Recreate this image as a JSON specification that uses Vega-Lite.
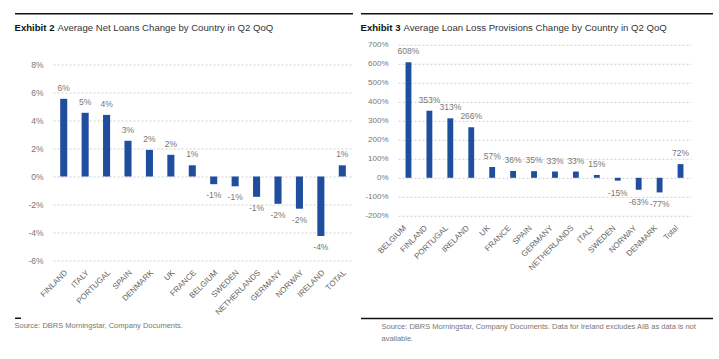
{
  "$schema": "https://vega.github.io/schema/vega-lite/v6.json",
  "padding": {"left": 14, "top": 12, "right": 6, "bottom": 0},
  "background": "white",
  "config": {
    "font": "Liberation Sans, Arial, sans-serif",
    "view": {"stroke": null},
    "axis": {"labelFont": "Liberation Sans, Arial, sans-serif", "labelColor": "#666", "ticks": false, "domain": false},
    "title": {"font": "Liberation Sans, Arial, sans-serif"},
    "text": {"font": "Liberation Sans, Arial, sans-serif"}
  },
  "spacing": 7,
  "hconcat": [
    {
      "spacing": 27.5,
      "vconcat": [
        {
          "spacing": 0,
          "bounds": "flush",
          "hconcat": [
            {"width": 43, "height": 1.5, "view": {"fill": "#111", "stroke": null}, "data": {"values": [{}]}, "mark": {"type": "rule", "opacity": 0}, "encoding": {},
             "title": {"text": "Exhibit 2", "orient": "bottom", "anchor": "start", "baseline": "top", "offset": 8.3, "fontSize": 9.6, "fontWeight": "bold", "color": "#111"}},
            {"width": 295, "height": 1.5, "view": {"fill": "#111", "stroke": null}, "data": {"values": [{}]}, "mark": {"type": "rule", "opacity": 0}, "encoding": {},
             "title": {"text": "Average Net Loans Change by Country in Q2 QoQ", "orient": "bottom", "anchor": "start", "baseline": "top", "offset": 8.3, "fontSize": 9.6, "fontWeight": "normal", "color": "#333"}}
          ]
        },
        {
          "spacing": 0,
          "vconcat": [
            {
              "spacing": 0,
              "hconcat": [
                {"width": 1, "height": 1, "data": {"values": [{}]}, "mark": {"type": "rule", "opacity": 0}, "encoding": {}},
                {
                  "width": 300,
                  "height": 196,
                  "data": {"values": [
                    {"country": "FINLAND", "v": 5.55, "label": "6%"},
                    {"country": "ITALY", "v": 4.55, "label": "5%"},
                    {"country": "PORTUGAL", "v": 4.4, "label": "4%"},
                    {"country": "SPAIN", "v": 2.55, "label": "3%"},
                    {"country": "DENMARK", "v": 1.9, "label": "2%"},
                    {"country": "UK", "v": 1.55, "label": "2%"},
                    {"country": "FRANCE", "v": 0.8, "label": "1%"},
                    {"country": "BELGIUM", "v": -0.55, "label": "-1%"},
                    {"country": "SWEDEN", "v": -0.7, "label": "-1%"},
                    {"country": "NETHERLANDS", "v": -1.45, "label": "-1%"},
                    {"country": "GERMANY", "v": -1.95, "label": "-2%"},
                    {"country": "NORWAY", "v": -2.3, "label": "-2%"},
                    {"country": "IRELAND", "v": -4.25, "label": "-4%"},
                    {"country": "TOTAL", "v": 0.8, "label": "1%"}
                  ]},
                  "encoding": {
                    "x": {"field": "country", "type": "nominal", "sort": null,
                          "scale": {"paddingInner": 0.67, "paddingOuter": 0.335},
                          "axis": {"title": null, "labelAngle": -45, "labelAlign": "right", "labelBaseline": "top", "labelPadding": 8, "labelFontSize": 8, "labelOverlap": false, "labelColor": "#666"}},
                    "y": {"field": "v", "type": "quantitative", "scale": {"domain": [-6, 8], "nice": false},
                          "axis": {"title": null, "values": [-6, -4, -2, 0, 2, 4, 6, 8], "labelExpr": "datum.value + '%'", "labelOverlap": false, "grid": true, "gridColor": "#cfcfcf", "gridDash": [2, 2], "labelPadding": 10, "minExtent": 37, "labelFontSize": 8.5, "labelColor": "#777"}}
                  },
                  "layer": [
                    {"mark": {"type": "bar", "color": "#1f4e9e"}},
                    {"mark": {"type": "rule", "color": "#333", "strokeWidth": 1.5}, "encoding": {"y": {"datum": 0}}},
                    {"transform": [{"filter": "datum.v >= 0"}],
                     "mark": {"type": "text", "baseline": "alphabetic", "dy": -8, "fontSize": 8.5, "color": "#777"},
                     "encoding": {"text": {"field": "label"}}},
                    {"transform": [{"filter": "datum.v < 0"}],
                     "mark": {"type": "text", "baseline": "top", "dy": 7, "fontSize": 8.5, "color": "#777"},
                     "encoding": {"text": {"field": "label"}}}
                  ]
                }
              ]
            },
            {"width": 6, "height": 1.5, "view": {"fill": "#111", "stroke": null}, "data": {"values": [{}]}, "mark": {"type": "rule", "opacity": 0}, "encoding": {},
             "title": {"text": "Source: DBRS Morningstar, Company Documents.", "orient": "bottom", "anchor": "start", "baseline": "top", "offset": 3, "fontSize": 7.5, "fontWeight": "normal", "color": "#777"}}
          ]
        }
      ]
    },
    {
      "spacing": 7.8,
      "vconcat": [
        {
          "spacing": 0,
          "bounds": "flush",
          "hconcat": [
            {"width": 43, "height": 1.5, "view": {"fill": "#111", "stroke": null}, "data": {"values": [{}]}, "mark": {"type": "rule", "opacity": 0}, "encoding": {},
             "title": {"text": "Exhibit 3", "orient": "bottom", "anchor": "start", "baseline": "top", "offset": 8.3, "fontSize": 9.6, "fontWeight": "bold", "color": "#111"}},
            {"width": 309, "height": 1.5, "view": {"fill": "#111", "stroke": null}, "data": {"values": [{}]}, "mark": {"type": "rule", "opacity": 0}, "encoding": {},
             "title": {"text": "Average Loan Loss Provisions Change by Country in Q2 QoQ", "orient": "bottom", "anchor": "start", "baseline": "top", "offset": 8.3, "fontSize": 9.6, "fontWeight": "normal", "color": "#333"}}
          ]
        },
        {
          "spacing": 45,
          "vconcat": [
            {
              "spacing": 0,
              "hconcat": [
                {"width": 1, "height": 1, "data": {"values": [{}]}, "mark": {"type": "rule", "opacity": 0}, "encoding": {}},
                {
                  "width": 293,
                  "height": 171,
                  "data": {"values": [
                    {"country": "BELGIUM", "v": 608, "label": "608%"},
                    {"country": "FINLAND", "v": 353, "label": "353%"},
                    {"country": "PORTUGAL", "v": 313, "label": "313%"},
                    {"country": "IRELAND", "v": 266, "label": "266%"},
                    {"country": "UK", "v": 57, "label": "57%"},
                    {"country": "FRANCE", "v": 36, "label": "36%"},
                    {"country": "SPAIN", "v": 35, "label": "35%"},
                    {"country": "GERMANY", "v": 33, "label": "33%"},
                    {"country": "NETHERLANDS", "v": 33, "label": "33%"},
                    {"country": "ITALY", "v": 15, "label": "15%"},
                    {"country": "SWEDEN", "v": -15, "label": "-15%"},
                    {"country": "NORWAY", "v": -63, "label": "-63%"},
                    {"country": "DENMARK", "v": -77, "label": "-77%"},
                    {"country": "Total", "v": 72, "label": "72%"}
                  ]},
                  "encoding": {
                    "x": {"field": "country", "type": "nominal", "sort": null,
                          "scale": {"paddingInner": 0.72, "paddingOuter": 0.36},
                          "axis": {"title": null, "labelAngle": -45, "labelAlign": "right", "labelBaseline": "top", "labelPadding": 8, "labelOffset": -6, "labelFontSize": 8, "labelOverlap": false, "labelColor": "#666"}},
                    "y": {"field": "v", "type": "quantitative", "scale": {"domain": [-200, 700], "nice": false},
                          "axis": {"title": null, "values": [-200, -100, 0, 100, 200, 300, 400, 500, 600, 700], "labelExpr": "datum.value + '%'", "labelOverlap": false, "grid": true, "gridColor": "#cfcfcf", "gridDash": [2, 2], "labelPadding": 10, "minExtent": 36, "labelFontSize": 8, "labelColor": "#777"}}
                  },
                  "layer": [
                    {"mark": {"type": "bar", "color": "#1f4e9e"}},
                    {"mark": {"type": "rule", "color": "#333", "strokeWidth": 1.5}, "encoding": {"y": {"datum": 0}}},
                    {"transform": [{"filter": "datum.v >= 0"}],
                     "mark": {"type": "text", "baseline": "alphabetic", "dy": -8, "fontSize": 8.5, "color": "#777"},
                     "encoding": {"text": {"field": "label"}}},
                    {"transform": [{"filter": "datum.v < 0"}],
                     "mark": {"type": "text", "baseline": "top", "dy": 8, "fontSize": 8.5, "color": "#777"},
                     "encoding": {"text": {"field": "label"}}}
                  ]
                }
              ]
            },
            {"width": 352, "height": 1.5, "view": {"fill": "#111", "stroke": null}, "data": {"values": [{}]}, "mark": {"type": "rule", "opacity": 0}, "encoding": {},
             "title": {"text": ["Source: DBRS Morningstar, Company Documents. Data for Ireland excludes AIB as data is not", "available."], "orient": "bottom", "anchor": "start", "baseline": "top", "offset": 3.5, "dx": 21, "lineHeight": 12.6, "fontSize": 7.5, "fontWeight": "normal", "color": "#777"}}
          ]
        }
      ]
    }
  ]
}
